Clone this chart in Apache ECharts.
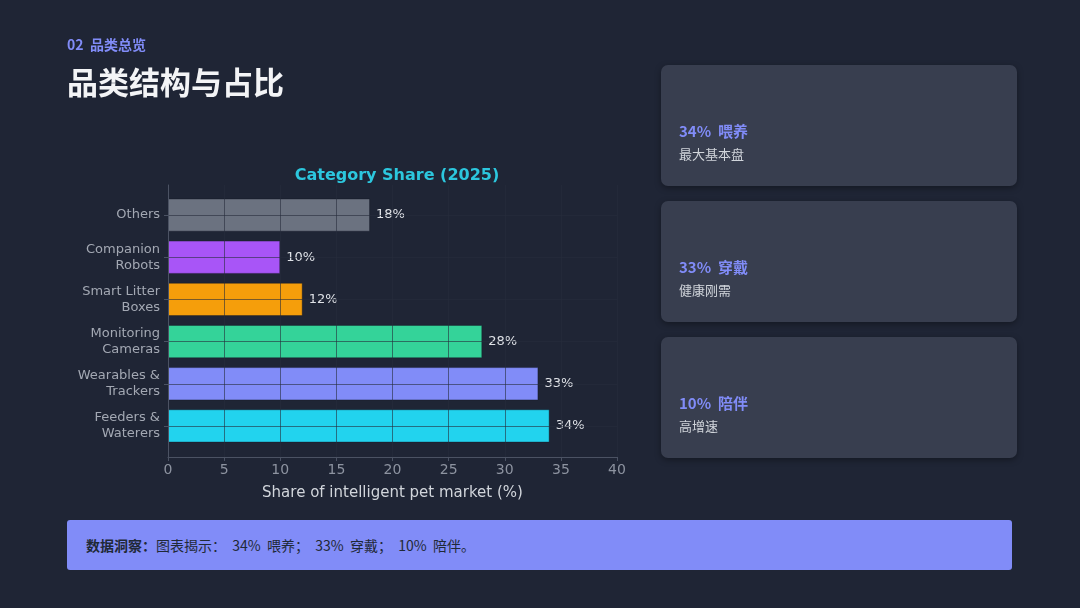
<!DOCTYPE html>
<html><head><meta charset="utf-8">
<script src="https://cdn.jsdelivr.net/npm/echarts@6/dist/echarts.min.js"></script>
<style>
html,body{margin:0;padding:0;width:1080px;height:608px;background:#1f2535;overflow:hidden;font-family:"Noto Sans CJK SC","Noto Sans",sans-serif;}
#chart{position:absolute;left:0;top:0;width:1080px;height:608px;}
.kicker{position:absolute;left:67px;top:34px;font-size:14px;font-weight:700;color:#818cf8;}
.title{position:absolute;left:67px;top:61px;font-size:31px;font-weight:700;color:#f3f4f6;line-height:40px;}
.card{position:absolute;left:661px;width:356px;height:121px;background:#383e4f;border-radius:7px;box-shadow:0 2px 6px rgba(0,0,0,0.35);}
.card .h{position:absolute;left:18px;top:55px;font-size:15px;font-weight:700;color:#818cf8;}
.card .s{position:absolute;left:18px;top:79px;font-size:13px;color:#d1d5db;}
.insight{position:absolute;left:67px;top:520px;width:945px;height:50px;background:#818cf8;border-radius:3px;}
.insight span{position:absolute;left:19px;top:15px;font-size:14px;color:#1f2937;white-space:pre;}
</style></head>
<body>
<div id="chart"></div>
<div class="kicker">02&nbsp; 品类总览</div>
<div class="title">品类结构与占比</div>
<div class="card" style="top:65px"><div class="h">34%&nbsp; 喂养</div><div class="s">最大基本盘</div></div>
<div class="card" style="top:201px"><div class="h">33%&nbsp; 穿戴</div><div class="s">健康刚需</div></div>
<div class="card" style="top:337px"><div class="h">10%&nbsp; 陪伴</div><div class="s">高增速</div></div>
<div class="insight"><span><b>数据洞察：</b>图表揭示：  34%  喂养；  33%  穿戴；  10%  陪伴。</span></div>
<script>
const categories = ['Feeders &\nWaterers','Wearables &\nTrackers','Monitoring\nCameras','Smart Litter\nBoxes','Companion\nRobots','Others'];
const values = [34, 33, 28, 12, 10, 18];
const barColors = ['#22d3ee','#818cf8','#34d399','#f59e0b','#a855f7','#6b7280'];
const xTicks = {min:0, max:40, interval:5};

const chart = echarts.init(document.getElementById('chart'));
const gridLine = {show:true, lineStyle:{color:'rgba(38,45,60,0.6)', width:1}};
const spine = {show:true, lineStyle:{color:'#4b5263'}};
chart.setOption({
  backgroundColor:'transparent',
  animation:false,
  textStyle:{fontFamily:'DejaVu Sans'},
  title:{text:'Category Share (2025)', left:392, top:163, textAlign:'center',
    textStyle:{color:'#2cc7de', fontSize:16, fontWeight:'bold', fontFamily:'DejaVu Sans'}},
  grid:[
    {left:168, width:449, top:194, height:253},
    {left:168, width:449, top:185, height:272}
  ],
  xAxis:[
    {type:'value', gridIndex:0, min:xTicks.min, max:xTicks.max, interval:xTicks.interval, show:false},
    {type:'value', gridIndex:1, min:xTicks.min, max:xTicks.max, interval:xTicks.interval, z:5,
      axisLine:spine,
      axisTick:{show:true, length:4, lineStyle:{color:'#4b5263'}},
      axisLabel:{color:'#8d93a0', fontSize:14, margin:6, fontFamily:'DejaVu Sans'},
      splitLine:gridLine,
      name:'Share of intelligent pet market (%)', nameLocation:'middle', nameGap:29,
      nameTextStyle:{color:'#d1d5db', fontSize:15, fontFamily:'DejaVu Sans'}}
  ],
  yAxis:[
    {type:'category', gridIndex:0, data:categories, z:5,
      axisLine:{show:false},
      axisTick:{show:true, alignWithLabel:true, length:4, lineStyle:{color:'#4b5263'}},
      axisLabel:{color:'#a3a8b3', fontSize:13, lineHeight:16, margin:8, fontFamily:'DejaVu Sans'},
      splitLine:Object.assign({alignWithLabel:true}, gridLine)},
    {type:'value', gridIndex:1, min:0, max:1, z:5,
      axisLine:spine, axisTick:{show:false}, axisLabel:{show:false}, splitLine:{show:false}}
  ],
  series:[{type:'bar', xAxisIndex:0, yAxisIndex:0, barWidth:'79%', z:2,
    data:values.map((v,i)=>({value:v, itemStyle:{color:barColors[i]}})),
    itemStyle:{borderColor:'rgba(20,25,38,0.4)', borderWidth:1},
    label:{show:true, position:'right', distance:6, formatter:'{c}%', color:'#dfe2e7', fontSize:13, fontFamily:'DejaVu Sans'}}]
});
</script>
</body></html>
